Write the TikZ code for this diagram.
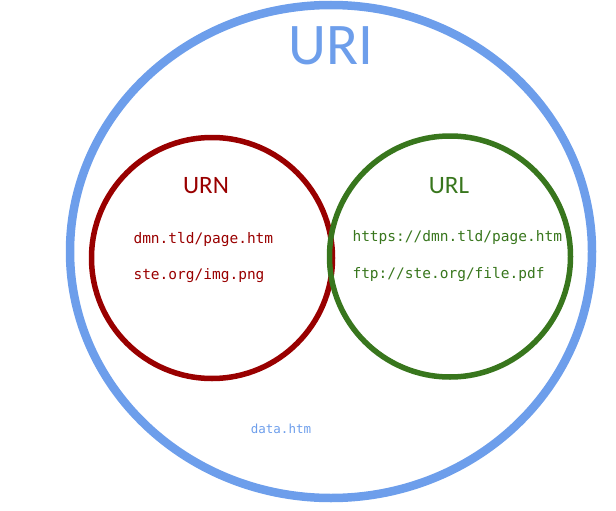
\documentclass[tikz,border=0pt]{standalone}
\usepackage{fontspec}
\setmainfont{Carlito}
\setmonofont{DejaVu Sans Mono}
\usetikzlibrary{positioning,shapes.geometric}
\definecolor{uriblue}{HTML}{6D9EEB}
\definecolor{urnred}{HTML}{990000}
\definecolor{urlgreen}{HTML}{38761D}

\begin{document}
\begin{tikzpicture}[x=1pt,y=-1pt,
    ring/.style={circle,draw,inner sep=0pt,minimum size=241pt,line width=5.5pt},
    head/.style={font=\fontsize{25}{30}\selectfont,anchor=base},
    addr/.style={font=\ttfamily\fontsize{14.5}{17}\selectfont,anchor=base west}]
  \useasboundingbox (0,0) rectangle (616,511);
  % outer set and the two inner sets
  \node (I) [ellipse,draw=uriblue,line width=8.5pt,inner sep=0pt,
             minimum width=522pt,minimum height=493pt] at (331,251.5) {};
  \node (N) [ring,draw=urnred] at (212,258) {};
  \node (L) [ring,draw=urlgreen] at (450,256.5) {};
  % titles
  \node (Ititle) [head,text=uriblue,font=\fontsize{59}{70}\selectfont] at (331,65) {URI};
  \node (Ntitle) [head,text=urnred] at (206,193) {URN};
  \node (Ltitle) [head,text=urlgreen] at (449,193) {URL};
  % examples
  \node (N1) [addr,text=urnred] at (130,243) {dmn.tld/page.htm};
  \node (N2) [addr,text=urnred] at ([yshift=-36pt]N1.base west) {ste.org/img.png};
  \node (L1) [addr,text=urlgreen] at (349,241) {https://dmn.tld/page.htm};
  \node (L2) [addr,text=urlgreen] at ([yshift=-37pt]L1.base west) {ftp://ste.org/file.pdf};
  \node (I1) [addr,anchor=base,text=uriblue,font=\ttfamily\fontsize{12.5}{15}\selectfont] at (281,433) {data.htm};
\end{tikzpicture}
\end{document}
